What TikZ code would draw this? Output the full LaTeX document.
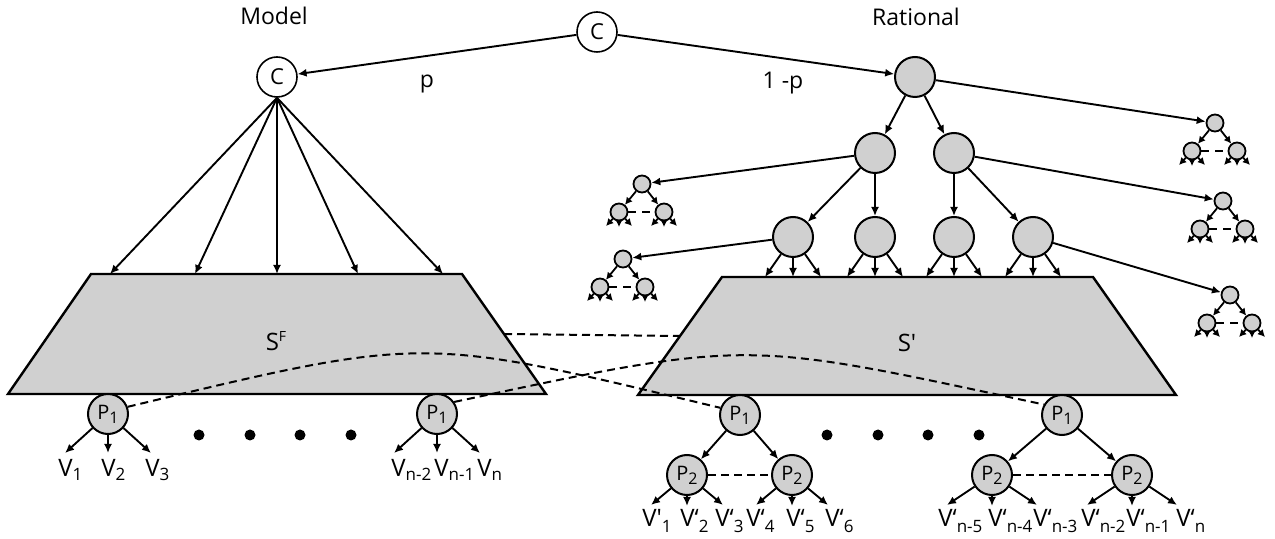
\documentclass[tikz,border=0pt]{standalone}
\usepackage{fontspec}
\setmainfont{Open Sans}
\usetikzlibrary{arrows.meta,calc}
\definecolor{nodegray}{HTML}{D0D0D0}
\newcommand\fs[1]{\fontsize{#1}{#1}\selectfont}
\newcommand\psub[1]{\raisebox{-2pt}{\fs{8}#1}}
\newcommand\vsub[1]{\raisebox{-2pt}{\fs{8.5}#1}}
\newcommand\wsub[1]{\raisebox{-3pt}{\fs{8.5}#1}}
\tikzset{
  big/.style={circle,draw,line width=1pt,fill=nodegray,minimum size=20pt,inner sep=0pt,font=\fs{10}},
  cnode/.style={circle,draw,line width=0.8pt,fill=white,minimum size=20pt,inner sep=0pt,font=\fs{11}},
  small/.style={circle,draw,line width=0.9pt,fill=nodegray,minimum size=8.5pt,inner sep=0pt},
  arr/.style={-{Latex[length=4.5pt,width=4pt]},line width=0.95pt},
  sarr/.style={-{Latex[length=3.6pt,width=3.8pt]},line width=0.9pt},
  dashone/.style={dash pattern=on 4pt off 2.5pt,line width=1pt},
  sdash/.style={dash pattern=on 4pt off 3pt,line width=1pt},
  trap/.style={draw,line width=1.2pt,fill=nodegray},
  lab/.style={font=\fs{11.5},inner sep=0pt},
  vlab/.style={font=\fs{12},inner sep=0pt,anchor=base west},
  dot/.style={circle,fill=black,minimum size=5.5pt,inner sep=0pt}
}
\newcommand\smalltree[3]{%
  \node[small] (#1r) at (#2,#3) {};
  \node[small] (#1a) at ($(#1r)+(-23,28)$) {};
  \node[small] (#1b) at ($(#1r)+(22,28)$) {};
  \draw[sarr] (#1r) -- (#1a);
  \draw[sarr] (#1r) -- (#1b);
  \draw[sdash] (#1a.east) -- (#1b.west);
  \foreach \c in {a,b}{
    \coordinate (#1\c x) at ($(#1\c)+(-13,14)$);
    \coordinate (#1\c y) at ($(#1\c)+(0,15)$);
    \coordinate (#1\c z) at ($(#1\c)+(13,14)$);
    \draw[sarr] (#1\c) -- (#1\c x);
    \draw[sarr] (#1\c) -- (#1\c y);
    \draw[sarr] (#1\c) -- (#1\c z);
  }%
}
\begin{document}
\begin{tikzpicture}[x=0.5pt,y=-0.5pt]
\useasboundingbox (0,0) rectangle (1275,539);

% titles and top
\node[lab] (model) at (274,16) {Model};
\node[lab] (rat) at (916,17) {Rational};
\node[cnode] (C) at (597,32) {C};
\node[cnode] (MC) at (277,77) {C};
\node[big] (R) at (915,77) {};
\node[lab] (p) at (427,84) {p};
\node[lab] (q) at (783,83) {1 -p};
\draw[arr] (C) -- (MC);
\draw[arr] (C) -- (R);

% left trapezoid
\coordinate (sf1) at (91,274);
\coordinate (sf2) at (462,274);
\coordinate (sf3) at (546,394);
\coordinate (sf4) at (8,394);
\draw[trap] (sf1) -- (sf2) -- (sf3) -- (sf4) -- cycle;
\node[inner sep=0pt,font=\fs{12}] (SF) at (276,341) {S\raisebox{4.5pt}{\fs{7}F}};
\foreach \i/\x in {1/110,2/195,3/277,4/358,5/443}{
  \coordinate (fan\i) at (\x,274);
  \draw[arr] (MC.south) -- (fan\i);
}

% right trapezoid
\coordinate (sp1) at (722,277);
\coordinate (sp2) at (1093,277);
\coordinate (sp3) at (1176,395);
\coordinate (sp4) at (638,395);
\draw[trap] (sp1) -- (sp2) -- (sp3) -- (sp4) -- cycle;
\node[inner sep=0pt,font=\fs{12}] (SP) at (907,343) {S\textquotesingle};

% rational tree
\node[big] (A) at (875,153) {};
\node[big] (B) at (954,153) {};
\node[big] (L1) at (793,237) {};
\node[big] (L2) at (875,237) {};
\node[big] (L3) at (954,237) {};
\node[big] (L4) at (1033,237) {};
\draw[arr] (R) -- (A);
\draw[arr] (R) -- (B);
\draw[arr] (A) -- (L1);
\draw[arr] (A) -- (L2);
\draw[arr] (B) -- (L3);
\draw[arr] (B) -- (L4);
\foreach \n in {L1,L2,L3,L4}{
  \coordinate (\n x) at ($(\n)+(-28,0)$);
  \coordinate (\n y) at ($(\n)+(0,0)$);
  \coordinate (\n z) at ($(\n)+(28,0)$);
  \coordinate (\n tx) at (\n x |- sp1);
  \coordinate (\n ty) at (\n y |- sp1);
  \coordinate (\n tz) at (\n z |- sp1);
  \draw[arr] (\n) -- (\n tx);
  \draw[arr] (\n) -- (\n ty);
  \draw[arr] (\n) -- (\n tz);
}
\smalltree{Ta}{1215}{123}
\smalltree{Tb}{642}{184}
\smalltree{Tc}{1223}{201}
\smalltree{Td}{623}{259}
\smalltree{Te}{1230}{295}
\draw[arr] (R) -- (Tar);
\draw[arr] (A) -- (Tbr);
\draw[arr] (B) -- (Tcr);
\draw[arr] (L1) -- (Tdr);
\draw[arr] (L4) -- (Ter);

% dashed connections
\coordinate (hd1) at ($(sf2)!0.5!(sf3)$);
\coordinate (hd2) at ($(sp1)!0.5!(sp4)$);
\draw[dashone] (hd1) -- (hd2);

% model leaves
\node[big] (PA) at (108,414) {P\psub{1}};
\node[big] (PB) at (437,414) {P\psub{1}};
\foreach \n/\x in {PA/108,PB/437}{
  \coordinate (\n x) at (\x-43,453);
  \coordinate (\n y) at (\x,453);
  \coordinate (\n z) at (\x+43,453);
  \draw[arr] (\n) -- (\n x);
  \draw[arr] (\n) -- (\n y);
  \draw[arr] (\n) -- (\n z);
}
\node[vlab] (v1) at (58,477) {V\vsub{1}};
\node[vlab] (v2) at (101,477) {V\vsub{2}};
\node[vlab] (v3) at (145,477) {V\vsub{3}};
\node[vlab] (vn2) at (391,477) {V\vsub{n-2}};
\node[vlab] (vn1) at (434,477) {V\vsub{n-1}};
\node[vlab] (vn) at (477,477) {V\vsub{n}};
\foreach \i/\x in {1/199,2/250,3/300,4/351}{
  \node[dot] (da\i) at (\x,435) {};
}

% rational leaves
\node[big] (PC) at (740,415) {P\psub{1}};
\node[big] (PD) at (1062,415) {P\psub{1}};
\node[big] (QA) at (687,475) {P\psub{2}};
\node[big] (QB) at (792,475) {P\psub{2}};
\node[big] (QC) at (992,475) {P\psub{2}};
\node[big] (QD) at (1132,475) {P\psub{2}};
\draw[arr] (PC) -- (QA);
\draw[arr] (PC) -- (QB);
\draw[arr] (PD) -- (QC);
\draw[arr] (PD) -- (QD);
\draw[dashone] (QA) -- (QB);
\draw[dashone] (QC) -- (QD);
\foreach \n/\x/\d in {QA/687/36,QB/792/36,QC/992/45,QD/1132/45}{
  \coordinate (\n x) at (\x-\d,505);
  \coordinate (\n y) at (\x,506);
  \coordinate (\n z) at (\x+\d,505);
  \draw[arr] (\n) -- (\n x);
  \draw[arr] (\n) -- (\n y);
  \draw[arr] (\n) -- (\n z);
}
\node[vlab] (w1) at (642,527) {V\textquotesingle\wsub{1}};
\node[vlab] (w2) at (680,527) {V‘\wsub{2}};
\node[vlab] (w3) at (715,527) {V‘\wsub{3}};
\node[vlab] (w4) at (746,527) {V‘\wsub{4}};
\node[vlab] (w5) at (786,527) {V‘\wsub{5}};
\node[vlab] (w6) at (825,527) {V‘\wsub{6}};
\node[vlab] (wn5) at (938,527) {V‘\wsub{n-5}};
\node[vlab] (wn4) at (988,527) {V‘\wsub{n-4}};
\node[vlab] (wn3) at (1033,527) {V‘\wsub{n-3}};
\node[vlab] (wn2) at (1081,527) {V‘\wsub{n-2}};
\node[vlab] (wn1) at (1126,527) {V‘\wsub{n-1}};
\node[vlab] (wn) at (1176,527) {V‘\wsub{n}};
\foreach \i/\x in {1/827,2/878,3/928,4/979}{
  \node[dot] (db\i) at (\x,435) {};
}

% long dashed curves
\draw[dashone] (PA.20) .. controls +(300,-72) and +(-300,-72) .. (PC.160);
\draw[dashone] (PB.35) .. controls +(300,-64) and +(-300,-64) .. (PD.150);
\end{tikzpicture}
\end{document}
